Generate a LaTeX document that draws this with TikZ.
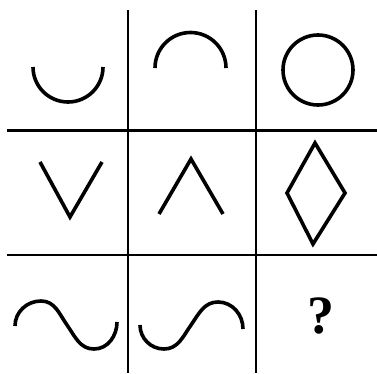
\documentclass[tikz,border=0pt]{standalone}
\usepackage{fontspec}
\setmainfont{Liberation Serif}
\begin{document}
\begin{tikzpicture}[x=1pt,y=1pt,
  gridline/.style={line width=2.4pt},
  figline/.style={line width=3.6pt}]
\useasboundingbox (0,0) rectangle (377,373);
% grid
\draw[gridline] (128,363) -- (128,0);
\draw[gridline] (256,363) -- (256,0);
\draw[gridline] (7,242.5) -- (377,242.5);
\draw[gridline] (7,118) -- (377,118);
% top row
\draw[figline] (33,306) arc[start angle=180, end angle=360, radius=35];
\draw[figline] (155,305) arc[start angle=180, end angle=0, radius=35.5];
\draw[figline] (318,303) circle[radius=35];
% middle row
\draw[figline] (40,211) -- (70,156) -- (102,211);
\draw[figline] (159,159) -- (191,214) -- (223,159);
\draw[figline] (315,230) -- (345,180) -- (313,129) -- (287,180) -- cycle;
% bottom row
\draw[figline] (15,47) to[out=90,in=180] (41,72) to[out=0,in=125] (67,48)
  to[out=-55,in=180] (94,24) to[out=0,in=-90] (117,51);
\draw[figline] (140,48) to[out=-90,in=180] (164,24) to[out=0,in=-125] (191,48)
  to[out=55,in=180] (218,71) to[out=0,in=90] (243,44);
\node[font=\fontsize{54}{54}\selectfont\bfseries] (q) at (321,57) {?};
\end{tikzpicture}
\end{document}
